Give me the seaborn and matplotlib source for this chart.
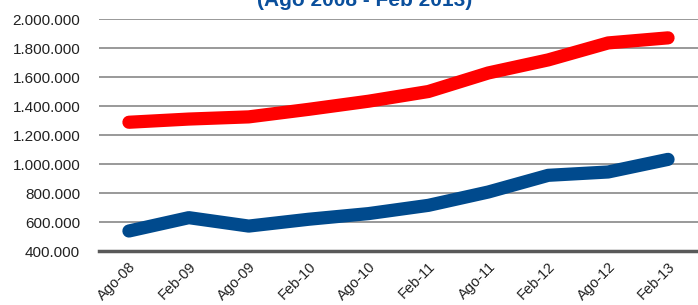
import pandas as pd
import matplotlib
matplotlib.use('Agg')
import matplotlib.pyplot as plt
import matplotlib.ticker as mticker
import seaborn as sns

periodos = ['Ago-08', 'Feb-09', 'Ago-09', 'Feb-10', 'Ago-10',
            'Feb-11', 'Ago-11', 'Feb-12', 'Ago-12', 'Feb-13']
serie_roja = [1288000, 1310000, 1325000, 1377000, 1433000,
              1500000, 1628000, 1718000, 1835000, 1870000]
serie_azul = [538000, 630000, 572000, 619000, 658000,
              715000, 807000, 922000, 945000, 1032000]

df = pd.DataFrame({
    'pos': list(range(len(periodos))) * 2,
    'valor': serie_roja + serie_azul,
    'serie': ['roja'] * len(periodos) + ['azul'] * len(periodos),
})

sns.set_style('white')
plt.rcParams['font.family'] = ['Liberation Sans', 'DejaVu Sans']

fig = plt.figure(figsize=(6.98, 3.05), dpi=100)
ax = fig.add_axes([0.1418, 0.177, 0.8582, 0.7607])

sns.lineplot(data=df, x='pos', y='valor', hue='serie',
             palette={'roja': '#ff0000', 'azul': '#004a8d'},
             linewidth=9.5, solid_capstyle='round', legend=False, ax=ax)

ax.set_xlim(-0.5, len(periodos) - 0.5)
ax.set_ylim(400000, 2000000)
ax.yaxis.set_major_locator(mticker.MultipleLocator(200000))
ax.yaxis.set_major_formatter(mticker.FuncFormatter(lambda v, p: f'{int(v):,}'.replace(',', '.')))
ax.grid(axis='y', color='#999999', linewidth=1.4)
ax.set_axisbelow(True)

ax.set_xticks(range(len(periodos)))
ax.set_xticklabels(periodos, rotation=45, ha='right', rotation_mode='anchor')
ax.set_xticks([i - 0.5 for i in range(len(periodos) + 1)], minor=True)
ax.tick_params(axis='x', which='major', length=0, pad=6, labelsize=10.5, colors='#222222')
ax.tick_params(axis='x', which='minor', length=4, width=2, color='#595959', direction='out')
ax.tick_params(axis='y', length=0, pad=13.5, labelsize=11, colors='#222222')

for s in ['top', 'right', 'left']:
    ax.spines[s].set_visible(False)
ax.spines['bottom'].set_color('#595959')
ax.spines['bottom'].set_linewidth(2.5)

ax.set_xlabel('')
ax.set_ylabel('')

fig.text(0.523, 1 - 6 / 305, '(Ago 2008 - Feb 2013)', ha='center', va='baseline',
         fontsize=15, fontweight='bold', color='#0a4f9c')

fig.savefig('out.png', dpi=100)
